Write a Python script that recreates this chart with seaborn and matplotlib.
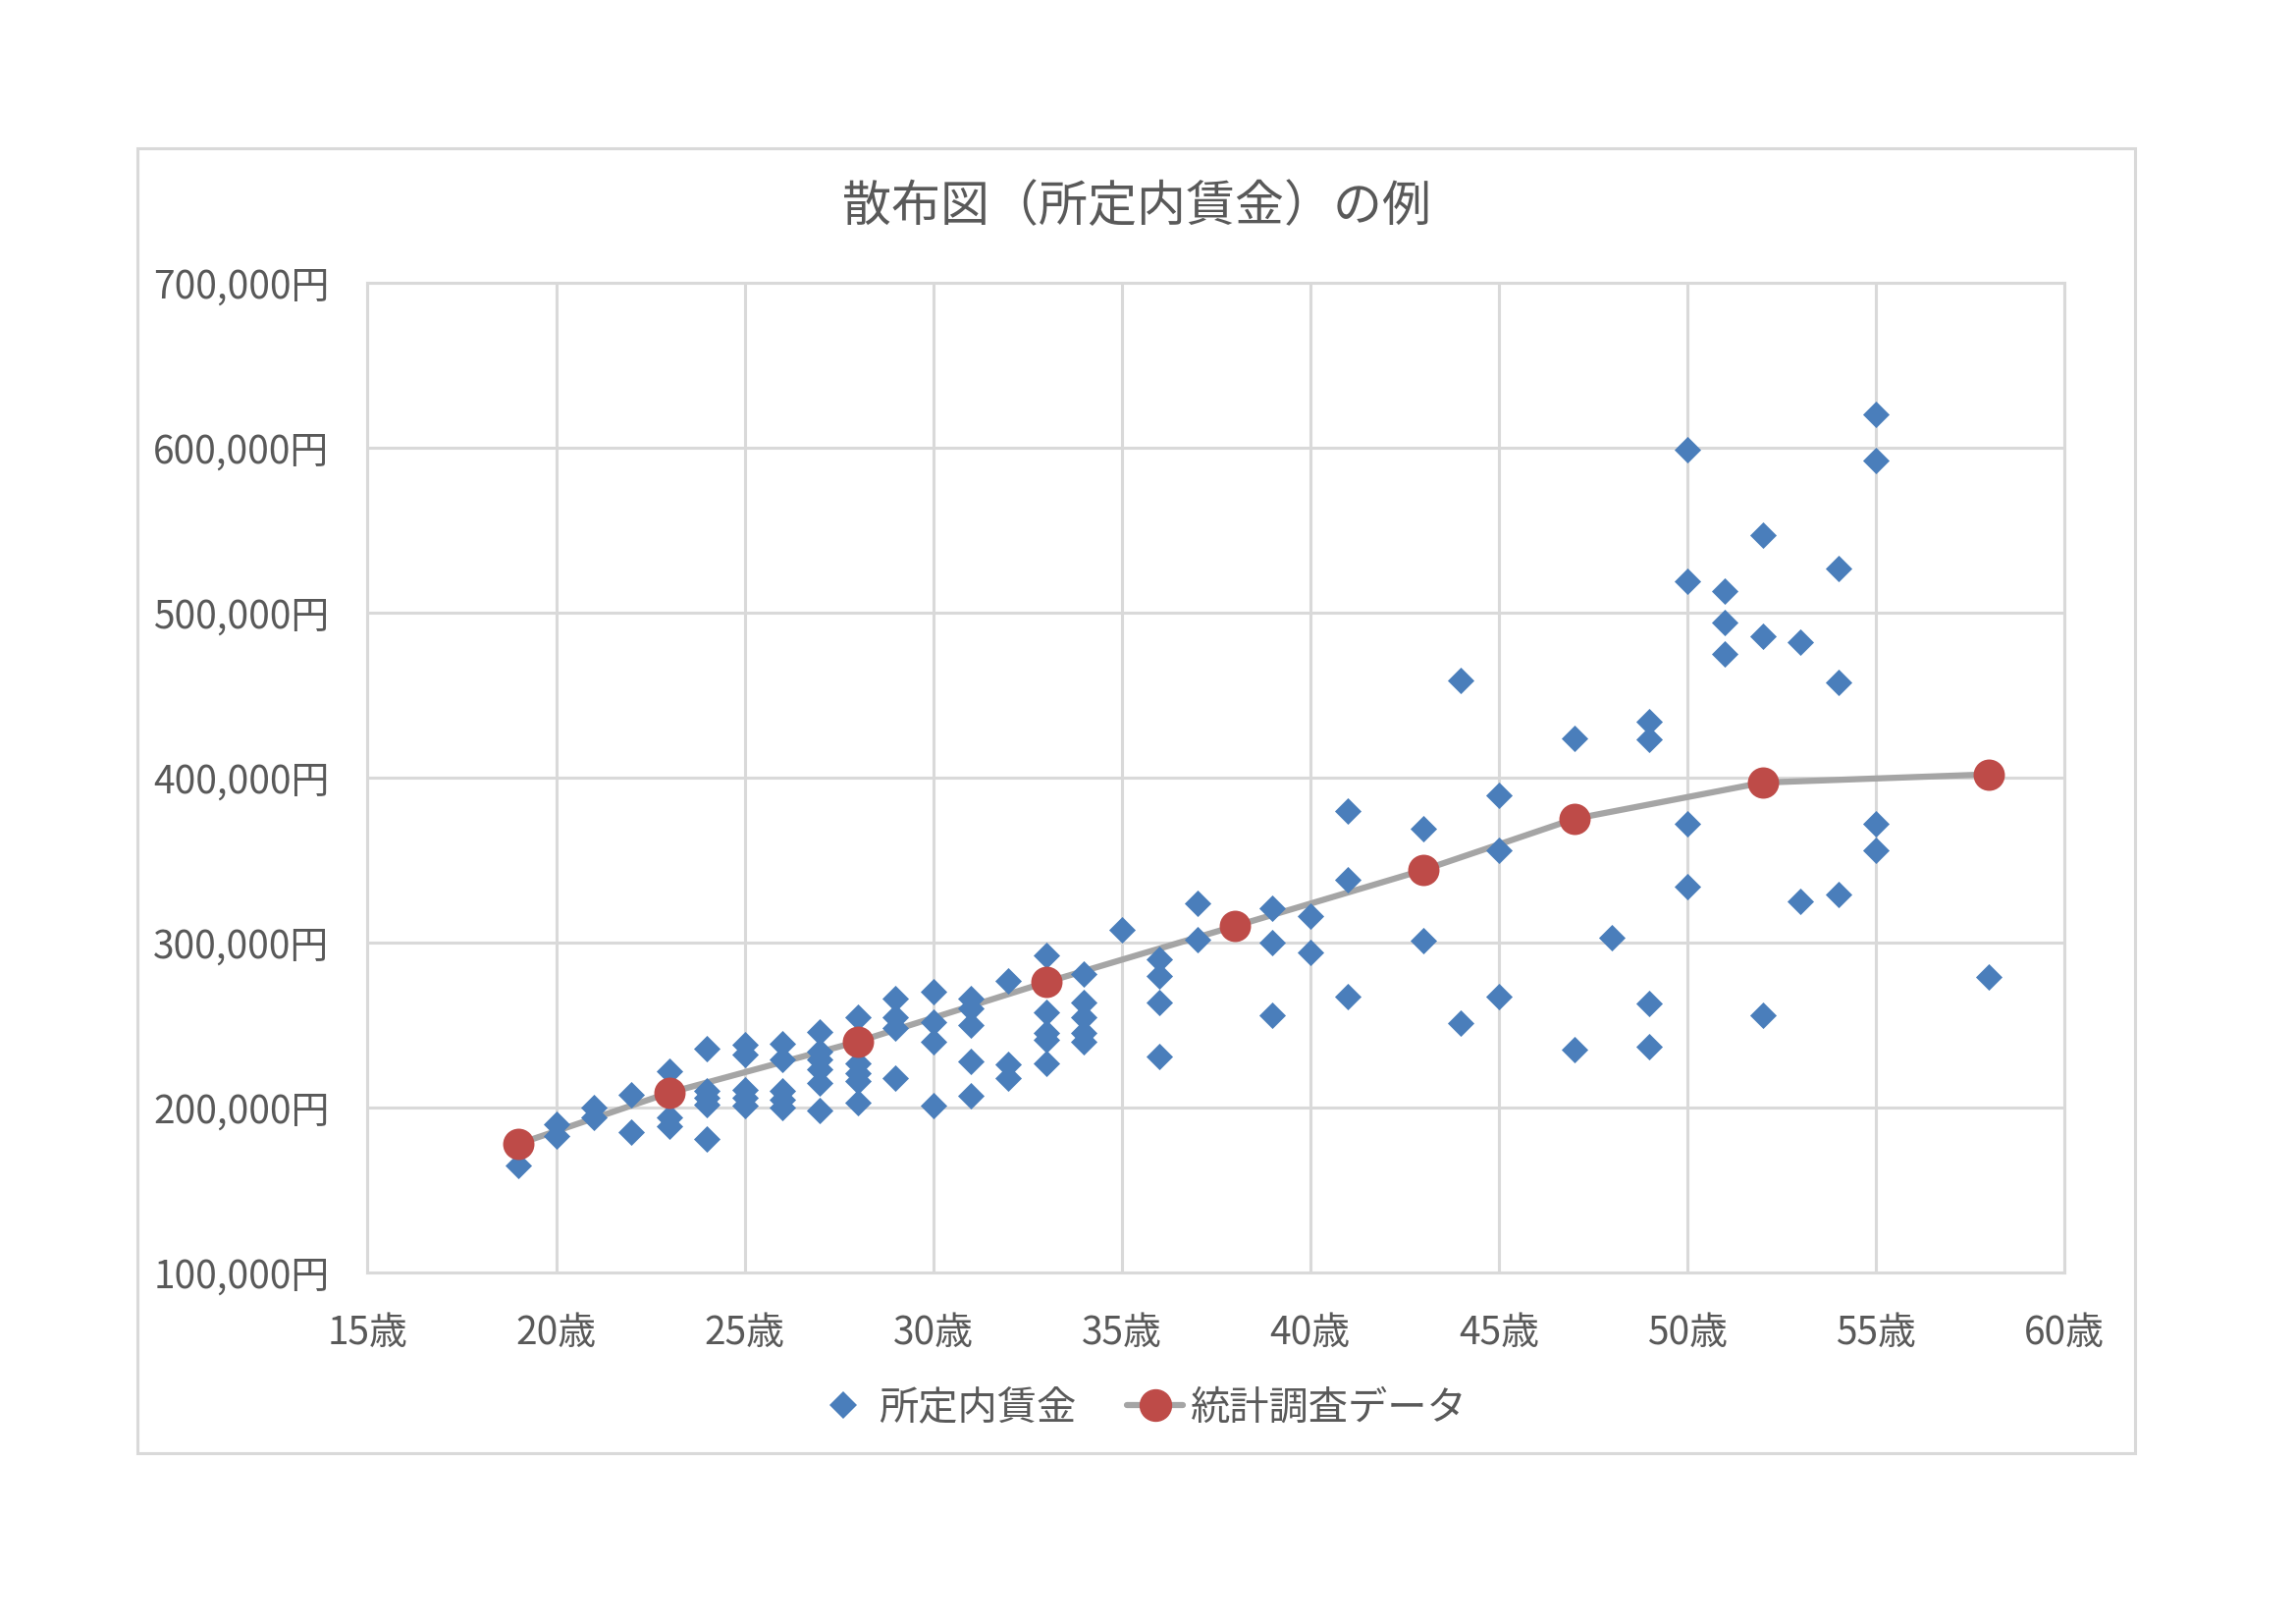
import matplotlib
matplotlib.use("Agg")
import matplotlib.pyplot as plt
import matplotlib.ticker as mticker
from matplotlib.lines import Line2D
from matplotlib.patches import Rectangle
import seaborn as sns
import pandas as pd

# 所定内賃金 (individual points)
ages = [19,
        20, 20,
        21, 21,
        22, 22,
        23, 23, 23,
        24, 24, 24, 24, 24,
        25, 25, 25, 25, 25,
        26, 26, 26, 26, 26,
        27, 27, 27, 27, 27, 27,
        28, 28, 28, 28, 28,
        29, 29, 29, 29,
        30, 30, 30, 30,
        31, 31, 31, 31, 31,
        32, 32, 32,
        33, 33, 33, 33, 33,
        34, 34, 34, 34, 34,
        35,
        36, 36, 36, 36,
        37, 37,
        39, 39, 39,
        40, 40,
        41, 41, 41,
        43, 43,
        44, 44,
        45, 45, 45,
        47, 47,
        48,
        49, 49, 49, 49,
        50, 50, 50, 50,
        51, 51, 51,
        52, 52, 52,
        53, 53,
        54, 54, 54,
        55, 55, 55, 55,
        58]
wages = [165000,
         190000, 183000,
         200000, 194000,
         208000, 185000,
         222000, 194000, 189000,
         236000, 210000, 206000, 202000, 181000,
         238000, 232000, 211000, 206000, 201000,
         239000, 229000, 210000, 205000, 200000,
         246000, 234000, 229000, 223000, 215000, 198000,
         255000, 227000, 221000, 216000, 203000,
         266000, 255000, 248000, 218000,
         270000, 252000, 240000, 201000,
         266000, 260000, 250000, 228000, 207000,
         277000, 226000, 218000,
         292000, 258000, 245000, 241000, 227000,
         281000, 264000, 255000, 245000, 240000,
         308000,
         290000, 280000, 264000, 231000,
         324000, 302000,
         321000, 300000, 256000,
         316000, 294000,
         380000, 338000, 267000,
         369000, 301000,
         459000, 251000,
         389000, 356000, 267000,
         424000, 235000,
         303000,
         434000, 423000, 263000, 237000,
         599000, 519000, 372000, 334000,
         513000, 494000, 475000,
         547000, 486000, 256000,
         482000, 325000,
         527000, 458000, 329000,
         620000, 592000, 372000, 356000,
         279000]

# 統計調査データ
survey_ages = [19, 23, 28, 33, 38, 43, 47, 52, 58]
survey_wages = [178000, 209000, 240000, 276000, 310000, 344000, 375000, 397000, 402000]

df = pd.DataFrame({"age": ages, "wage": wages})
df_s = pd.DataFrame({"age": survey_ages, "wage": survey_wages})

sns.set_theme(style="white")
plt.rcParams["font.family"] = ["Noto Sans CJK JP", "DejaVu Sans"]

blue = "#4A7EBB"
red = "#BE4B48"
gray_line = "#A5A5A5"
grid = "#D9D9D9"
text_col = "#595959"

fig = plt.figure(figsize=(23.39, 16.54), dpi=100)
ax = fig.add_axes([0.1601, 0.2164, 0.8991 - 0.1601, 0.8259 - 0.2164])

sns.lineplot(data=df_s, x="age", y="wage", ax=ax, color=gray_line, linewidth=4.5,
             zorder=2, legend=False)
sns.scatterplot(data=df, x="age", y="wage", ax=ax, marker="D", s=190, color=blue,
                edgecolor=blue, linewidth=0, zorder=3, legend=False)
# red survey circles sit above the diamonds
sns.scatterplot(data=df_s, x="age", y="wage", ax=ax, marker="o", s=23 ** 2, color=red,
                edgecolor=red, linewidth=0, zorder=4, legend=False)

ax.set_xlim(15, 60)
ax.set_ylim(100000, 700000)
ax.xaxis.set_major_locator(mticker.MultipleLocator(5))
ax.yaxis.set_major_locator(mticker.MultipleLocator(100000))
ax.xaxis.set_major_formatter(mticker.FuncFormatter(lambda v, p: f"{v:.0f}歳"))
ax.yaxis.set_major_formatter(mticker.FuncFormatter(lambda v, p: f"{v:,.0f}円"))
ax.set_xlabel("")
ax.set_ylabel("")
ax.grid(True, color=grid, linewidth=2.2)
ax.set_axisbelow(True)
for sp in ax.spines.values():
    sp.set_color(grid)
    sp.set_linewidth(2.2)
ax.tick_params(axis="both", length=0, labelsize=28, labelcolor=text_col)
ax.tick_params(axis="x", pad=30)
ax.tick_params(axis="y", pad=28)

# outer chart border
fig.patches.append(Rectangle((140 / 2339, 1 - 1480 / 1654), 2035 / 2339, 1329 / 1654,
                             transform=fig.transFigure, fill=False,
                             edgecolor=grid, linewidth=2.2))

fig.text(0.4949, 1 - 211 / 1654, "散布図（所定内賃金）の例", ha="center", va="center",
         fontsize=36, color=text_col)

handles = [
    Line2D([], [], linestyle="none", marker="D", markersize=14, color=blue,
           markeredgewidth=0),
    Line2D([], [], color=gray_line, linewidth=4.5, marker="o", markersize=23,
           markerfacecolor=red, markeredgecolor=red),
]
fig.legend(handles, ["所定内賃金", "統計調査データ"], loc="center",
           bbox_to_anchor=(0.497, 1 - 1434 / 1654), ncol=2, frameon=False,
           fontsize=29, labelcolor=text_col, handlelength=1.4, handletextpad=0.2,
           columnspacing=1.3)

fig.savefig("out.png", dpi=100, facecolor="white")
